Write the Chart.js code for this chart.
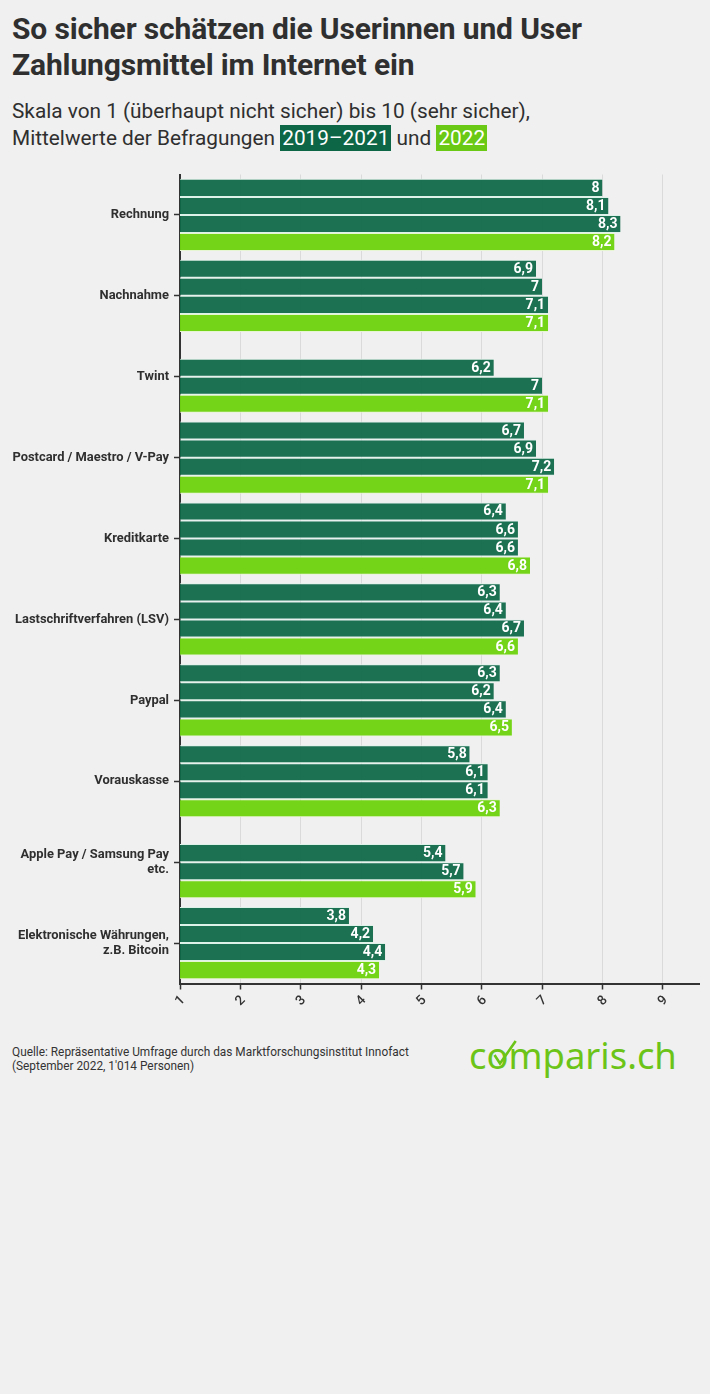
<!DOCTYPE html>
<html><head><meta charset="utf-8">
<script src="https://cdn.jsdelivr.net/npm/chart.js@4"></script>
<style>
html,body{margin:0;padding:0;background:#f0f0f0;font-family:Roboto,sans-serif;color:#2f2f2f}
body{position:relative;width:710px;height:1394px;overflow:hidden}
.abs{position:absolute;white-space:nowrap}
h1{margin:0;left:12px;top:11px;font-size:30px;line-height:36px;font-weight:700;letter-spacing:-.15px}
h2{margin:0;left:12px;top:98px;font-size:20.8px;line-height:27px;font-weight:400}
h2 span{color:#fff;padding:1px 2px}
.dk{background:#0d6645}.lt{background:#69c914}
#src{left:12px;top:1045px;font-size:11.85px;line-height:14.2px;color:#333}
#logo{left:469px;top:1027px;font-size:36.4px;line-height:56px;color:#6cc418;font-family:"Noto Sans",sans-serif}
#check{position:absolute;left:0;top:0;pointer-events:none}
#wrap{position:absolute;left:0;top:160.5px;width:710px;height:860px}
</style></head><body>
<h1 class="abs">So sicher schätzen die Userinnen und User<br>Zahlungsmittel im Internet ein</h1>
<h2 class="abs">Skala von 1 (überhaupt nicht sicher) bis 10 (sehr sicher),<br>Mittelwerte der Befragungen <span class="dk">2019–2021</span> und <span class="lt">2022</span></h2>
<div id="wrap"><canvas id="c" width="710" height="860"></canvas></div>
<div class="abs" id="src">Quelle: Repräsentative Umfrage durch das Marktforschungsinstitut Innofact<br>(September 2022, 1'014 Personen)</div>
<div class="abs" id="logo">comparis.ch</div>
<svg id="check" width="710" height="1394"><polyline points="494.5,1055 500,1063.5 515.7,1041" fill="none" stroke="#6cc418" stroke-width="2.6"/></svg>
<script>
const categories=["Rechnung","Nachnahme","Twint","Postcard / Maestro / V-Pay","Kreditkarte","Lastschriftverfahren (LSV)","Paypal","Vorauskasse",["Apple Pay / Samsung Pay","etc."],["Elektronische Währungen,","z.B. Bitcoin"]];
const y2019=[8,6.9,null,6.7,6.4,6.3,6.3,5.8,null,3.8];
const y2020=[8.1,7,6.2,6.9,6.6,6.4,6.2,6.1,5.4,4.2];
const y2021=[8.3,7.1,7,7.2,6.6,6.7,6.4,6.1,5.7,4.4];
const y2022=[8.2,7.1,7.1,7.1,6.8,6.6,6.5,6.3,5.9,4.3];
const seriesNames=["2019","2020","2021","2022"];
const xTicks=[1,2,3,4,5,6,7,8,9];
const dark="rgba(14,104,72,.94)",light="rgba(112,211,16,.97)";
const mk=(label,data,color,edge)=>({label,data,backgroundColor:color,borderColor:edge,borderWidth:{top:1,bottom:1,left:0,right:0},borderSkipped:false,categoryPercentage:0.893,barPercentage:1});
const labelPlugin={id:"valueLabels",afterDatasetsDraw(chart){
  const c=chart.ctx;c.save();c.font="700 14px Roboto";c.fillStyle="#fff";c.textAlign="right";c.textBaseline="middle";
  chart.data.datasets.forEach((ds,i)=>{chart.getDatasetMeta(i).data.forEach((el,j)=>{
    const v=ds.data[j];if(v==null)return;
    c.fillText(String(v).replace(".",","),el.x-3,el.y+0.5);
  });});
  c.restore();
}};
new Chart(document.getElementById("c"),{type:"bar",
 data:{labels:categories,datasets:[mk(seriesNames[0],y2019,dark,"#dff2e9"),mk(seriesNames[1],y2020,dark,"#dff2e9"),mk(seriesNames[2],y2021,dark,"#dff2e9"),mk(seriesNames[3],y2022,light,"#e6f5d2")]},
 options:{indexAxis:"y",responsive:false,animation:false,devicePixelRatio:1,
  layout:{padding:{left:0,right:11,top:13.5,bottom:0}},
  plugins:{legend:{display:false},tooltip:{enabled:false}},
  scales:{
   x:{type:"linear",position:"bottom",min:1,max:9.6,afterBuildTicks(a){a.ticks=xTicks.map(value=>({value}));},
      afterFit(a){a.height=37.5;},
      grid:{color:"rgba(0,0,0,.09)",lineWidth:1,drawTicks:true,tickColor:"#333",tickLength:6,tickWidth:1.5},
      border:{color:"#333",width:2},
      ticks:{color:"#333",font:{family:"Roboto",size:13.5,weight:"500"},maxRotation:45,minRotation:45,autoSkip:false,padding:3,labelOffset:3}},
   y:{position:"left",grid:{display:true,offset:false,drawOnChartArea:false,color:"#333",tickLength:6,tickWidth:1.5},
      border:{color:"#333",width:2},
      afterFit(a){a.width=180;a.paddingTop=0;a.paddingBottom=0;},
      ticks:{color:"#2f2f2f",font:{family:"Roboto",size:12.9,weight:"700",lineHeight:1.15},padding:5,autoSkip:false}}
  }},
 plugins:[labelPlugin]});
</script></body></html>
